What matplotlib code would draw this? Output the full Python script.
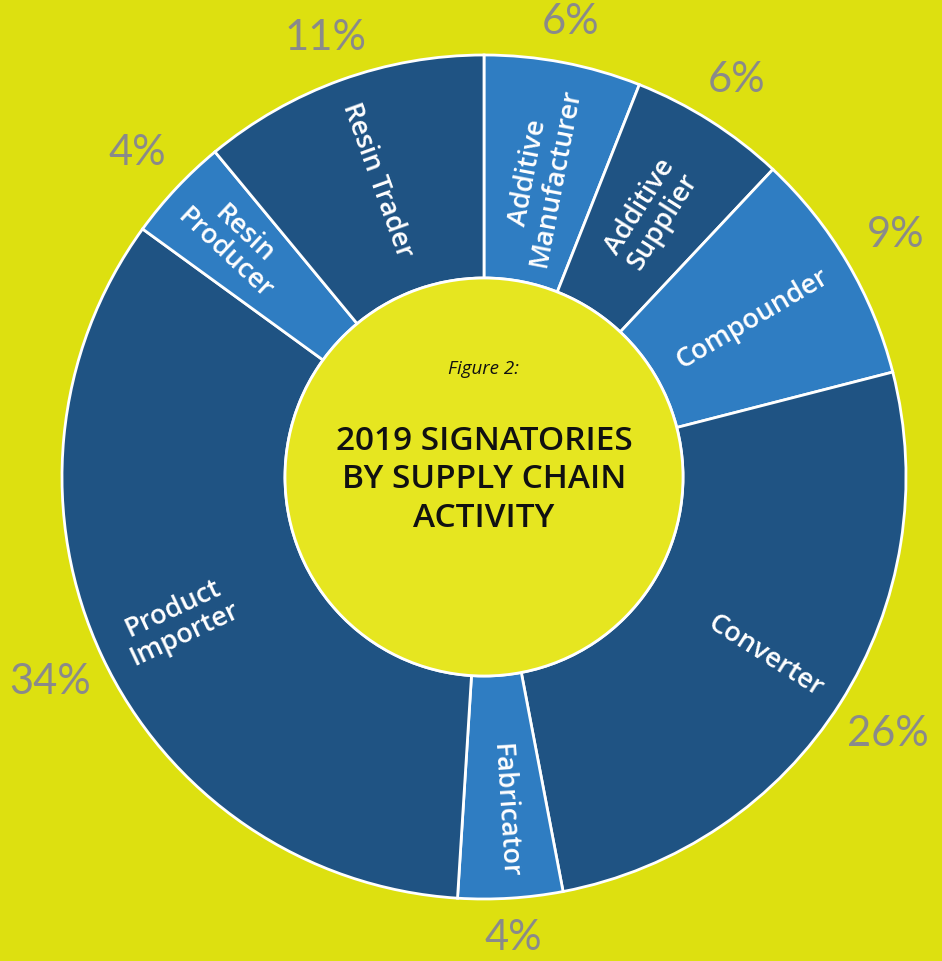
import numpy as np
import matplotlib
matplotlib.use("Agg")
import matplotlib.pyplot as plt
from matplotlib.patches import Circle

# ---- data ----
categories = ["Additive\nManufacturer", "Additive\nSupplier", "Compounder", "Converter",
              "Fabricator", "Product\nImporter", "Resin\nProducer", "Resin Trader"]
shares = [6, 6, 9, 26, 4, 34, 4, 11]
pct_labels = ["6%", "6%", "9%", "26%", "4%", "34%", "4%", "11%"]

# ---- style / layout ----
DARK = "#1F5383"
LIGHT = "#2F7DC2"
colors = [LIGHT, DARK, LIGHT, DARK, LIGHT, DARK, LIGHT, DARK]
BG = "#DDE010"
CENTER = "#E6E620"
label_r = [0.73, 0.74, 0.74, 0.79, 0.79, 0.80, 0.81, 0.75]

W, H = 942, 962
cx, cy, R = 484, 478, 422
r_in = 199 / R

fig = plt.figure(figsize=(W / 100, H / 100), dpi=100)
fig.patch.set_facecolor(BG)
ax = fig.add_axes([0, 0, 1, 1])
ax.set_facecolor(BG)

wedges, _ = ax.pie(shares, startangle=90, counterclock=False, radius=1.0,
                   colors=colors,
                   wedgeprops=dict(width=1 - r_in, edgecolor="white", linewidth=2))
ax.set_xlim(-cx / R, (W - cx) / R)
ax.set_ylim(-(H - cy) / R, cy / R)
ax.set_aspect("auto")
ax.axis("off")

ax.add_patch(Circle((0, 0), r_in, facecolor=CENTER, edgecolor="white", linewidth=2, zorder=3))

for w, cat, pct, lr in zip(wedges, categories, pct_labels, label_r):
    mid = (w.theta1 + w.theta2) / 2.0
    t = np.deg2rad(mid)
    rot = mid % 360
    if 90 < rot < 270:
        rot -= 180
    elif rot >= 270:
        rot -= 360
    ax.text(lr * np.cos(t), lr * np.sin(t), cat, rotation=rot, rotation_mode="anchor",
            ha="center", va="center", color="white", fontsize=19.5,
            family=["Open Sans", "DejaVu Sans"], fontweight="semibold",
            linespacing=1.0, zorder=5)
    pr = 1.09 + 0.05 * abs(np.cos(t))
    ax.text(pr * np.cos(t), pr * np.sin(t), pct, ha="center", va="center",
            color="#8A8A8A", fontsize=30, family=["Lato", "DejaVu Sans"],
            fontweight="normal", zorder=5)

ax.text(0, (cy - 369) / R, "Figure 2:", ha="center", va="center", fontsize=13.5,
        style="italic", family=["Open Sans", "DejaVu Sans"], color="#111111", zorder=6)
ax.text(0, (cy - 480) / R, "2019 SIGNATORIES\nBY SUPPLY CHAIN\nACTIVITY", ha="center",
        va="center", fontsize=24, fontweight="semibold", linespacing=1.22,
        family=["Open Sans", "DejaVu Sans"], color="#111111", zorder=6)

fig.savefig("out.png", dpi=100, facecolor=BG)
